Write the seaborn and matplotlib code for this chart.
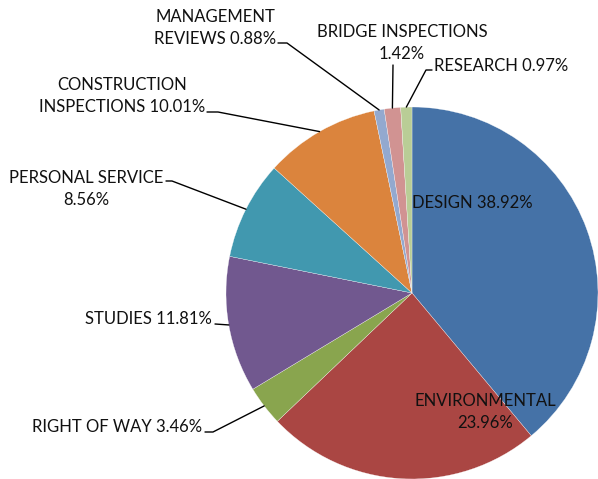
"""
Pie chart of consultant contract spending by category (Excel-style).
Writes out.png, ~598x479 px.
"""

import numpy as np
import matplotlib
matplotlib.use('Agg')
import matplotlib.pyplot as plt
import seaborn as sns

# ── Data ──────────────────────────────────────────────────────────────────────
CATEGORIES = [
    'DESIGN', 'ENVIRONMENTAL', 'RIGHT OF WAY', 'STUDIES', 'PERSONAL SERVICE',
    'CONSTRUCTION INSPECTIONS', 'MANAGEMENT REVIEWS', 'BRIDGE INSPECTIONS',
    'RESEARCH',
]
SHARES = [38.92, 23.96, 3.46, 11.81, 8.56, 10.01, 0.88, 1.42, 0.97]
LABELS = [
    'DESIGN 38.92%',
    'ENVIRONMENTAL\n23.96%',
    'RIGHT OF WAY 3.46%',
    'STUDIES 11.81%',
    'PERSONAL SERVICE\n8.56%',
    'CONSTRUCTION\nINSPECTIONS 10.01%',
    'MANAGEMENT\nREVIEWS 0.88%',
    'BRIDGE INSPECTIONS\n1.42%',
    'RESEARCH 0.97%',
]
COLORS = ['#4572A7', '#AA4643', '#89A54E', '#71588F', '#4198AF',
          '#DB843D', '#93A9CF', '#D19392', '#B9CD96']

# ── Layout (pixels, origin top-left) ──────────────────────────────────────────
W, H = 598, 479
CX, CY, R = 412, 293, 186

# text x, text y, ha, elbow points of leader line (None = no leader)
LAYOUT = {
    'DESIGN':                   (412, 203, 'left',   None),
    'ENVIRONMENTAL':            (485, 412, 'center', None),
    'RIGHT OF WAY':             (202, 427, 'right',  [(205, 432), (213, 432)]),
    'STUDIES':                  (212, 319, 'right',  [(215, 324)]),
    'PERSONAL SERVICE':         (86, 189,  'center', [(166, 181), (172, 181)]),
    'CONSTRUCTION INSPECTIONS': (122, 96,  'center', [(207, 112), (218, 112)]),
    'MANAGEMENT REVIEWS':       (215, 28,  'center', [(278, 43), (287, 43)]),
    'BRIDGE INSPECTIONS':       (402, 43,  'center', [(393, 65)]),
    'RESEARCH':                 (434, 66,  'left',   [(432, 70), (426, 70)]),
}


def px(x, y):
    return x, H - y


sns.set_theme(style='white')
plt.rcParams['font.family'] = ['Lato', 'DejaVu Sans']

fig = plt.figure(figsize=(W / 100, H / 100), dpi=100)
ax = fig.add_axes([0, 0, 1, 1])

wedges, _ = ax.pie(
    SHARES, colors=COLORS, startangle=90, counterclock=False,
    center=px(CX, CY), radius=R,
    wedgeprops=dict(edgecolor='white', linewidth=0.2),
)

for cat, label, w in zip(CATEGORIES, LABELS, wedges):
    tx, ty, ha, elbow = LAYOUT[cat]
    ax.text(*px(tx, ty), label, ha=ha, va='center', fontsize=12,
            color='#111111', linespacing=1.45, multialignment='center')
    if elbow:
        mid = np.deg2rad((w.theta1 + w.theta2) / 2)
        ex, ey = w.center[0] + R * np.cos(mid), w.center[1] + R * np.sin(mid)
        pts = [px(*p) for p in elbow] + [(ex, ey)]
        xs, ys = zip(*pts)
        ax.plot(xs, ys, color='black', linewidth=1.0)

ax.set_xlim(0, W)
ax.set_ylim(0, H)
ax.set_aspect('equal')
ax.axis('off')

fig.savefig('out.png', dpi=100)
